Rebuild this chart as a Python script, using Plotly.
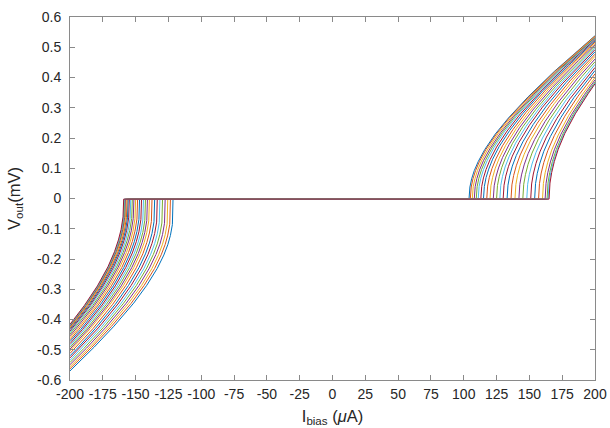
import plotly.graph_objects as go

# ---------------- data ----------------
# switching currents (uA) of each I-V sweep
pos_ic = [104.0, 105.0, 106.5, 108.0, 109.5, 111.0, 113.0, 115.0, 117.5, 120.0,
          122.5, 125.0, 127.5, 130.0, 133.0, 136.0, 139.0, 142.0, 145.0, 148.0,
          151.0, 154.0, 157.0, 160.0, 162.0, 163.5, 164.3, 165.0]
neg_ic = [-121.5, -123.5, -125.5, -127.5, -129.5, -131.5, -133.5, -135.5, -137.5, -139.5,
          -141.0, -142.5, -144.0, -145.5, -147.0, -148.5, -150.0, -151.3, -152.5, -153.7,
          -154.8, -155.7, -156.5, -157.2, -157.8, -158.3, -158.7, -159.1]

# current offsets past the switching current at which the voltage is read (uA)
POS_OFFSETS = [0.7, 2, 4, 7, 12, 20, 30, 45, 65]
NEG_OFFSETS = [0.5, 2, 4, 7, 12, 20, 30, 45, 60]

# voltage (mV) at those offsets; last value of each row is the voltage at +/-200 uA
pos_v = [
    [0.038, 0.065, 0.092, 0.122, 0.162, 0.213, 0.266, 0.336, 0.420, 0.538],
    [0.038, 0.065, 0.092, 0.123, 0.163, 0.214, 0.268, 0.338, 0.422, 0.537],
    [0.039, 0.065, 0.093, 0.124, 0.164, 0.216, 0.270, 0.340, 0.425, 0.535],
    [0.039, 0.066, 0.094, 0.125, 0.165, 0.217, 0.272, 0.343, 0.428, 0.532],
    [0.039, 0.067, 0.095, 0.126, 0.167, 0.219, 0.274, 0.345, 0.431, 0.530],
    [0.040, 0.067, 0.095, 0.127, 0.168, 0.221, 0.276, 0.348, 0.434, 0.528],
    [0.040, 0.068, 0.096, 0.128, 0.170, 0.223, 0.279, 0.351, 0.438, 0.525],
    [0.040, 0.069, 0.097, 0.130, 0.172, 0.225, 0.281, 0.355, 0.441, 0.521],
    [0.041, 0.070, 0.099, 0.131, 0.174, 0.228, 0.285, 0.359, 0.446, 0.517],
    [0.042, 0.070, 0.100, 0.133, 0.176, 0.231, 0.288, 0.363, 0.451, 0.512],
    [0.042, 0.071, 0.101, 0.135, 0.178, 0.234, 0.292, 0.367, 0.456, 0.508],
    [0.043, 0.072, 0.103, 0.137, 0.181, 0.237, 0.295, 0.371, 0.461, 0.503],
    [0.043, 0.073, 0.104, 0.138, 0.183, 0.239, 0.298, 0.375, 0.466, 0.497],
    [0.044, 0.074, 0.105, 0.140, 0.185, 0.242, 0.302, 0.379, 0.470, 0.492],
    [0.044, 0.075, 0.107, 0.142, 0.187, 0.245, 0.306, 0.384, 0.485],
    [0.045, 0.076, 0.108, 0.144, 0.190, 0.249, 0.310, 0.389, 0.477],
    [0.046, 0.077, 0.110, 0.146, 0.193, 0.252, 0.314, 0.394, 0.470],
    [0.046, 0.078, 0.111, 0.148, 0.195, 0.255, 0.318, 0.399, 0.461],
    [0.047, 0.079, 0.113, 0.150, 0.198, 0.259, 0.322, 0.403, 0.452],
    [0.047, 0.080, 0.114, 0.152, 0.200, 0.262, 0.326, 0.408, 0.443],
    [0.048, 0.081, 0.116, 0.154, 0.203, 0.265, 0.330, 0.413, 0.433],
    [0.049, 0.083, 0.117, 0.156, 0.205, 0.268, 0.334, 0.423],
    [0.049, 0.084, 0.119, 0.158, 0.208, 0.272, 0.338, 0.412],
    [0.050, 0.085, 0.120, 0.160, 0.210, 0.275, 0.342, 0.400],
    [0.050, 0.085, 0.121, 0.161, 0.212, 0.277, 0.344, 0.392],
    [0.051, 0.086, 0.122, 0.162, 0.213, 0.279, 0.346, 0.385],
    [0.051, 0.086, 0.122, 0.162, 0.214, 0.280, 0.347, 0.382],
    [0.051, 0.086, 0.122, 0.163, 0.215, 0.280, 0.348, 0.379],
]
neg_v = [
    [-0.086, -0.122, -0.153, -0.187, -0.231, -0.287, -0.346, -0.422, -0.491, -0.570],
    [-0.085, -0.121, -0.152, -0.186, -0.231, -0.287, -0.347, -0.423, -0.492, -0.563],
    [-0.084, -0.120, -0.151, -0.186, -0.231, -0.288, -0.347, -0.424, -0.494, -0.556],
    [-0.082, -0.119, -0.151, -0.185, -0.230, -0.288, -0.348, -0.425, -0.495, -0.549],
    [-0.081, -0.118, -0.150, -0.185, -0.230, -0.288, -0.348, -0.426, -0.496, -0.542],
    [-0.080, -0.117, -0.149, -0.184, -0.230, -0.288, -0.349, -0.427, -0.497, -0.535],
    [-0.078, -0.116, -0.148, -0.184, -0.230, -0.288, -0.349, -0.428, -0.498, -0.527],
    [-0.077, -0.115, -0.147, -0.183, -0.229, -0.288, -0.350, -0.429, -0.500, -0.520],
    [-0.076, -0.114, -0.146, -0.183, -0.229, -0.288, -0.350, -0.430, -0.512],
    [-0.074, -0.113, -0.146, -0.182, -0.229, -0.289, -0.350, -0.430, -0.504],
    [-0.073, -0.112, -0.145, -0.182, -0.229, -0.289, -0.351, -0.431, -0.498],
    [-0.072, -0.112, -0.144, -0.181, -0.228, -0.289, -0.351, -0.432, -0.492],
    [-0.071, -0.111, -0.144, -0.181, -0.228, -0.289, -0.351, -0.432, -0.486],
    [-0.070, -0.110, -0.143, -0.180, -0.228, -0.289, -0.352, -0.433, -0.480],
    [-0.069, -0.109, -0.143, -0.180, -0.228, -0.289, -0.352, -0.434, -0.473],
    [-0.068, -0.108, -0.142, -0.179, -0.228, -0.289, -0.352, -0.434, -0.467],
    [-0.067, -0.108, -0.141, -0.179, -0.227, -0.289, -0.353, -0.435, -0.460],
    [-0.066, -0.107, -0.141, -0.178, -0.227, -0.289, -0.353, -0.435, -0.454],
    [-0.066, -0.106, -0.140, -0.178, -0.227, -0.289, -0.353, -0.448],
    [-0.065, -0.106, -0.140, -0.178, -0.227, -0.289, -0.353, -0.443],
    [-0.064, -0.105, -0.139, -0.177, -0.227, -0.289, -0.354, -0.438],
    [-0.064, -0.105, -0.139, -0.177, -0.226, -0.289, -0.354, -0.433],
    [-0.063, -0.104, -0.139, -0.177, -0.226, -0.289, -0.354, -0.429],
    [-0.063, -0.104, -0.138, -0.177, -0.226, -0.289, -0.354, -0.426],
    [-0.062, -0.103, -0.138, -0.176, -0.226, -0.289, -0.354, -0.423],
    [-0.062, -0.103, -0.138, -0.176, -0.226, -0.289, -0.354, -0.420],
    [-0.062, -0.103, -0.138, -0.176, -0.226, -0.289, -0.354, -0.418],
    [-0.061, -0.103, -0.137, -0.176, -0.226, -0.289, -0.354, -0.416],
]
ZERO_V = -0.002          # superconducting-state voltage (mV)
I_END = 200.0            # sweep end current (uA)

x_ticks = [-200, -175, -150, -125, -100, -75, -50, -25, 0, 25, 50, 75, 100, 125, 150, 175, 200]
x_labels = ["-200", "-175", "-150", "-125", "-100", "-75", "-50", "-25", "0",
            "25", "50", "75", "100", "125", "150", "175", "200"]
y_ticks = [-0.6, -0.5, -0.4, -0.3, -0.2, -0.1, 0, 0.1, 0.2, 0.3, 0.4, 0.5, 0.6]
y_labels = ["-0.6", "-0.5", "-0.4", "-0.3", "-0.2", "-0.1", "0",
            "0.1", "0.2", "0.3", "0.4", "0.5", "0.6"]

COLORS = ["#0072BD", "#D95319", "#EDB120", "#7E2F8E", "#77AC30", "#4DBEEE", "#A2142F"]
FONT = "Liberation Sans, Arial, sans-serif"

# ---------------- figure ----------------
fig = go.Figure()
for k in range(len(pos_ic)):
    nv, pv = neg_v[k], pos_v[k]
    xn = [neg_ic[k] - d for d in NEG_OFFSETS[:len(nv) - 1]]
    xp = [pos_ic[k] + d for d in POS_OFFSETS[:len(pv) - 1]]
    x = [-I_END] + xn[::-1] + [neg_ic[k], pos_ic[k]] + xp + [I_END]
    y = [nv[-1]] + nv[:-1][::-1] + [ZERO_V, ZERO_V] + pv[:-1] + [pv[-1]]
    fig.add_trace(go.Scatter(x=x, y=y, mode="lines",
                             line=dict(color=COLORS[k % len(COLORS)], width=1),
                             showlegend=False, hoverinfo="skip"))

axis_common = dict(showline=True, linecolor="#8a8a8a", linewidth=1, mirror="ticks",
                   ticks="inside", ticklen=5, tickcolor="#8a8a8a", tickwidth=1,
                   showgrid=False, zeroline=False, automargin=False,
                   tickfont=dict(family=FONT, size=14, color="#262626"))

fig.update_layout(
    width=610, height=428,
    margin=dict(l=70, r=15, t=17, b=48),
    paper_bgcolor="white", plot_bgcolor="white",
    xaxis=dict(range=[-200, 200], tickmode="array", tickvals=x_ticks, ticktext=x_labels,
               ticklabelstandoff=1,
               title=dict(text="I<sub>bias</sub> (<i>μ</i>A)", standoff=9,
                          font=dict(family=FONT, size=16.5, color="#262626")),
               **axis_common),
    yaxis=dict(range=[-0.6, 0.6], tickmode="array", tickvals=y_ticks, ticktext=y_labels,
               ticklabelstandoff=5,
               title=dict(text="V<sub>out</sub>(mV)", standoff=12,
                          font=dict(family=FONT, size=16.5, color="#262626")),
               **axis_common),
)

fig.write_html("out.html")
